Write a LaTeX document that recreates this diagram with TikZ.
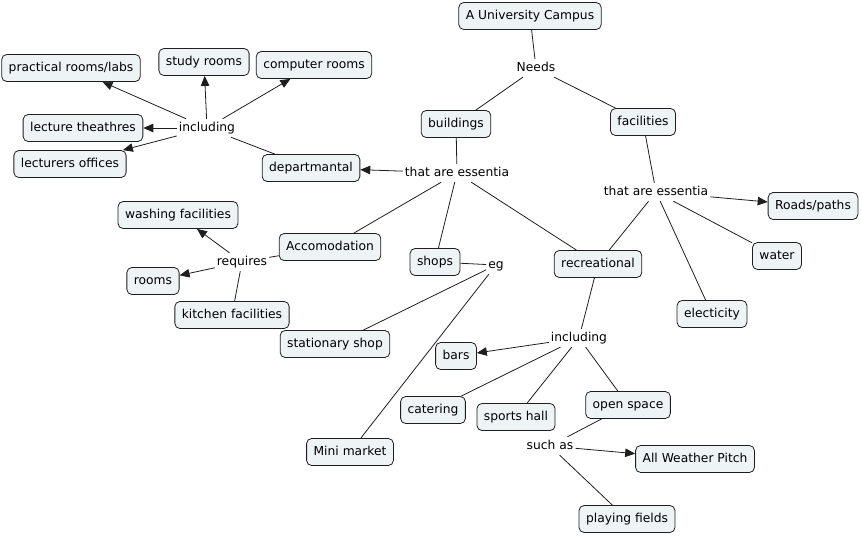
\documentclass[tikz,border=0pt]{standalone}
\usepackage{fontspec}
\setmainfont{DejaVu Sans}
\usetikzlibrary{arrows.meta}
\definecolor{boxfill}{RGB}{238,243,245}
\definecolor{boxline}{RGB}{30,30,30}
\begin{document}
\begin{tikzpicture}[x=1pt,y=-1pt,
  font=\fontsize{12.3}{14}\selectfont,
  concept/.style={draw=boxline,fill=boxfill,rounded corners=5pt,line width=0.8pt,
    inner xsep=7pt,inner ysep=7.5pt,text height=9pt,text depth=3pt},
  phrase/.style={inner xsep=2pt,inner ysep=3pt,text height=9pt,text depth=3pt},
  link/.style={draw=boxline,line width=0.8pt},
  arr/.style={link,-{Triangle[length=10pt,width=8.5pt]}}]
\useasboundingbox (0,0) rectangle (862,536);
% concepts
\node[concept] (campus) at (530,16) {A University Campus};
\node[concept] (buildings) at (456,124) {buildings};
\node[concept] (facilities) at (643,122) {facilities};
\node[concept] (practical) at (71,68) {practical rooms/labs};
\node[concept] (study) at (204,62) {study rooms};
\node[concept] (computer) at (314,65) {computer rooms};
\node[concept] (lecture) at (83,128) {lecture theathres};
\node[concept] (offices) at (70,164) {lecturers offices};
\node[concept] (dept) at (311,168) {departmantal};
\node[concept] (roads) at (813,206) {Roads/paths};
\node[concept] (washing) at (178,215) {washing facilities};
\node[concept] (accom) at (330,247) {Accomodation};
\node[concept] (shops) at (435,262) {shops};
\node[concept] (recre) at (598,264) {recreational};
\node[concept] (water) at (777,256) {water};
\node[concept] (rooms) at (153,281) {rooms};
\node[concept] (kitchen) at (232,315) {kitchen facilities};
\node[concept] (elec) at (712,314) {electicity};
\node[concept] (stationary) at (335,344) {stationary shop};
\node[concept] (bars) at (456,356) {bars};
\node[concept] (catering) at (433,410) {catering};
\node[concept] (sports) at (516,417) {sports hall};
\node[concept] (open) at (628,405) {open space};
\node[concept] (mini) at (350,452) {Mini market};
\node[concept] (pitch) at (695,459) {All Weather Pitch};
\node[concept] (playing) at (627,519) {playing fields};
% linking phrases
\node[phrase] (needs) at (536,68) {Needs};
\node[phrase] (taeL) at (457,173) {that are essentia};
\node[phrase] (taeR) at (656,192) {that are essentia};
\node[phrase] (incT) at (207,128) {including};
\node[phrase] (req) at (242,262) {requires};
\node[phrase] (eg) at (496,265) {eg};
\node[phrase] (incB) at (579,338) {including};
\node[phrase] (such) at (550,446) {such as};
% connectors
\draw[link] (campus) -- (needs);
\draw[link] (needs) -- (buildings);
\draw[link] (needs) -- (facilities);
\draw[link] (buildings) -- (taeL);
\draw[link] (facilities) -- (taeR);
\draw[arr] (taeL) -- (dept);
\draw[link] (taeL) -- (accom);
\draw[link] (taeL) -- (shops);
\draw[link] (taeL) -- (recre);
\draw[arr] (taeR) -- (roads);
\draw[link] (taeR) -- (recre);
\draw[link] (taeR) -- (elec);
\draw[link] (taeR) -- (water);
\draw[link] (dept) -- (incT);
\draw[arr] (incT) -- (practical);
\draw[arr] (incT) -- (study);
\draw[arr] (incT) -- (computer);
\draw[arr] (incT) -- (lecture);
\draw[arr] (incT) -- (offices);
\draw[link] (accom) -- (req);
\draw[arr] (req) -- (washing);
\draw[arr] (req) -- (rooms);
\draw[link] (req) -- (kitchen);
\draw[link] (shops) -- (eg);
\draw[link] (eg) -- (stationary);
\draw[link] (eg) -- (mini);
\draw[link] (recre) -- (incB);
\draw[arr] (incB) -- (bars);
\draw[link] (incB) -- (catering);
\draw[link] (incB) -- (sports);
\draw[link] (incB) -- (open);
\draw[link] (open) -- (such);
\draw[arr] (such) -- (pitch);
\draw[link] (such) -- (playing);
\end{tikzpicture}
\end{document}
